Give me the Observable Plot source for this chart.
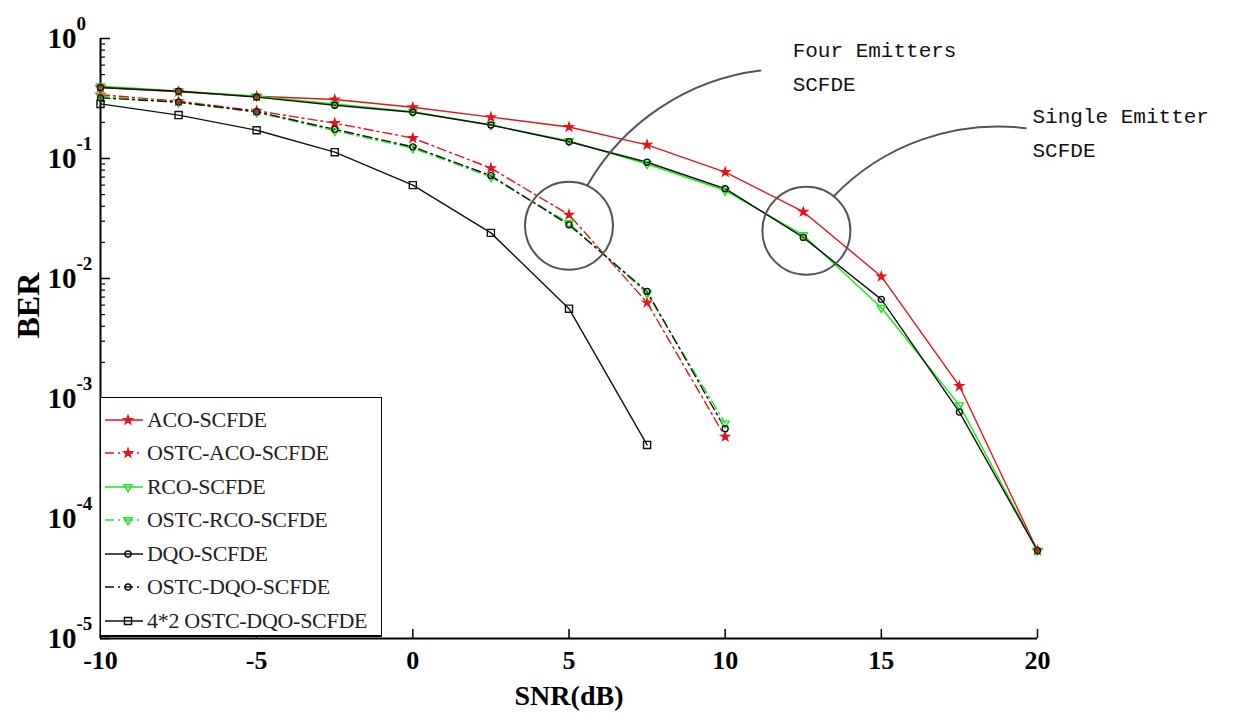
<!DOCTYPE html>
<html>
<head>
<meta charset="utf-8">
<script src="https://cdn.jsdelivr.net/npm/d3@7"></script>
<script src="https://cdn.jsdelivr.net/npm/@observablehq/plot@0.6"></script>
<style>
  body { margin: 0; background: #fff; }
  #wrap { position: relative; width: 1248px; height: 717px; overflow: hidden; }
  #legend { position: absolute; left: 100px; top: 397px; width: 282px; height: 240px;
            border: 1px solid #000; border-bottom: 2px solid #000; background: #fff; box-sizing: border-box;
            padding-top: 5px; font-family: "Liberation Serif", serif; font-size: 22px; color: #222; }
  .row { display: flex; align-items: center; height: 33.5px; }
  .row svg { flex: none; margin-left: 2px; margin-right: 2px; }
  .row span { white-space: nowrap; letter-spacing: -0.3px; }
</style>
</head>
<body>
<div id="wrap"></div>
<script>
// ---------- data ----------
const snr = [-10, -7.5, -5, -2.5, 0, 2.5, 5, 7.5, 10, 12.5, 15, 17.5, 20];
const snrOstc = [-10, -7.5, -5, -2.5, 0, 2.5, 5, 7.5, 10];
const snr42 = [-10, -7.5, -5, -2.5, 0, 2.5, 5, 7.5];

const acoScfde     = [0.39, 0.36, 0.33, 0.31, 0.267, 0.221, 0.183, 0.13, 0.077, 0.036, 0.0104, 0.00127, 0.000054];
const rcoScfde     = [0.40, 0.365, 0.33, 0.285, 0.245, 0.19, 0.14, 0.09, 0.054, 0.023, 0.0057, 0.00088, 0.000054];
const dqoScfde     = [0.39, 0.363, 0.325, 0.278, 0.243, 0.19, 0.138, 0.093, 0.056, 0.022, 0.0067, 0.00077, 0.000054];
const ostcAco      = [0.34, 0.30, 0.25, 0.197, 0.148, 0.083, 0.034, 0.0063, 0.00048];
const ostcRco      = [0.33, 0.295, 0.243, 0.17, 0.122, 0.07, 0.029, 0.0075, 0.00062];
const ostcDqo      = [0.32, 0.295, 0.245, 0.175, 0.125, 0.072, 0.028, 0.0078, 0.00056];
const ostcDqo42    = [0.285, 0.23, 0.172, 0.113, 0.06, 0.024, 0.0056, 0.00041];

const seriesNames = ["ACO-SCFDE", "OSTC-ACO-SCFDE", "RCO-SCFDE", "OSTC-RCO-SCFDE", "DQO-SCFDE", "OSTC-DQO-SCFDE", "4*2 OSTC-DQO-SCFDE"];
const seriesX = [snr, snrOstc, snr, snrOstc, snr, snrOstc, snr42];
const seriesY = [acoScfde, ostcAco, rcoScfde, ostcRco, dqoScfde, ostcDqo, ostcDqo42];

const xTicks = [-10, -5, 0, 5, 10, 15, 20];
const yTicks = [1, 0.1, 0.01, 0.001, 0.0001, 0.00001];
const yTickExp = ["0", "-1", "-2", "-3", "-4", "-5"];

const noteCircles = [{x: 5, y: 0.0275}, {x: 12.6, y: 0.025}];
const noteLeaders = [{x1: 5, y1: 0.0275, x2: 11.13, y2: 0.54}, {x1: 12.6, y1: 0.025, x2: 19.62, y2: 0.179}];
const noteTexts = [{x: 12.16, y: 0.62, text: "Four Emitters\nSCFDE"}, {x: 19.84, y: 0.176, text: "Single Emitter\nSCFDE"}];

// ---------- styles ----------
const RED = "#e8121c", GREEN = "#1ee51e", BLACK = "#111";
const DASH = "9,4,2,4";
const styles = [
  {color: RED,   dash: null, symbol: "star",     rotate: 0,   fill: RED,    r: 2.6},
  {color: RED,   dash: DASH, symbol: "star",     rotate: 0,   fill: RED,    r: 2.6},
  {color: GREEN, dash: null, symbol: "triangle", rotate: 180, fill: "none", r: 3},
  {color: GREEN, dash: DASH, symbol: "triangle", rotate: 180, fill: "none", r: 3},
  {color: BLACK, dash: null, symbol: "circle",   rotate: 0,   fill: "none", r: 3},
  {color: BLACK, dash: DASH, symbol: "circle",   rotate: 0,   fill: "none", r: 3},
  {color: BLACK, dash: null, symbol: "square",   rotate: 0,   fill: "none", r: 4}
];

// ---------- build ----------
const series = seriesNames.map((name, i) => ({
  name, style: styles[i],
  points: seriesX[i].map((x, j) => ({x, y: seriesY[i][j]}))
}));

const minorTicks = [];
for (let k = -5; k < 0; k++) for (let m = 2; m <= 9; m++) minorTicks.push(m * Math.pow(10, k));

const marks = [];
marks.push(Plot.ruleX([-10], {stroke: "#000", strokeWidth: 2}));
marks.push(Plot.ruleY([1e-5], {stroke: "#000", strokeWidth: 2}));
marks.push(Plot.axisY({ticks: yTicks, tickSize: -10, tickFormat: () => "", label: null, strokeWidth: 1.5}));
marks.push(Plot.axisY({ticks: minorTicks, tickSize: -5, tickFormat: () => "", label: null, strokeWidth: 1.2}));
marks.push(Plot.axisX({ticks: xTicks, tickSize: -9, tickPadding: 21, tickFormat: d => String(d), label: null,
  fontSize: 26, fontWeight: "bold", fontFamily: "Liberation Serif", strokeWidth: 1.5}));
marks.push(Plot.text(yTicks, {y: d => d, text: () => "10", frameAnchor: "left", dx: -24, textAnchor: "end",
  fontSize: 29, fontWeight: "bold", fontFamily: "Liberation Serif"}));
marks.push(Plot.text(yTicks, {y: d => d, text: (d, i) => yTickExp[i], frameAnchor: "left", dx: -24, dy: -15, textAnchor: "start",
  fontSize: 19, fontWeight: "bold", fontFamily: "Liberation Serif"}));
marks.push(Plot.text(["SNR(dB)"], {frameAnchor: "bottom", dy: 66, fontSize: 28, fontWeight: "bold", fontFamily: "Liberation Serif"}));
marks.push(Plot.text(["BER"], {frameAnchor: "left", dx: -72, rotate: -90, fontSize: 32, fontWeight: "bold", fontFamily: "Liberation Serif"}));

for (const s of series) {
  const st = s.style;
  marks.push(Plot.line(s.points, {x: "x", y: "y", stroke: st.color, strokeWidth: 1.4, strokeDasharray: st.dash}));
}
for (const s of series) {
  const st = s.style;
  marks.push(Plot.dot(s.points, {x: "x", y: "y", symbol: st.symbol, r: st.r, rotate: st.rotate,
    stroke: st.color, fill: st.fill, strokeWidth: 1.4}));
}

marks.push(Plot.dot(noteCircles, {x: "x", y: "y", r: 44, stroke: "#555", strokeWidth: 2, fill: "none"}));
marks.push(Plot.arrow(noteLeaders, {x1: "x1", y1: "y1", x2: "x2", y2: "y2", bend: 32, headLength: 0,
  insetStart: 44, stroke: "#555", strokeWidth: 2}));
marks.push(Plot.text(noteTexts, {x: "x", y: "y", text: "text", textAnchor: "start", lineAnchor: "middle",
  fontFamily: "Liberation Mono", fontSize: 21, lineHeight: 1.6, fill: "#111"}));

const chart = Plot.plot({
  width: 1248, height: 717,
  marginLeft: 100, marginRight: 211, marginTop: 38, marginBottom: 79,
  x: {domain: [-10, 20]},
  y: {type: "log", domain: [1e-5, 1]},
  style: {background: "#fff", fontFamily: "Liberation Serif", overflow: "visible"},
  marks
});
const wrap = document.getElementById("wrap");
wrap.appendChild(chart);

// ---------- legend ----------
const legend = d3.select(wrap).append("div").attr("id", "legend");
series.forEach(s => {
  const st = s.style;
  const row = legend.append("div").attr("class", "row");
  const svg = row.append("svg").attr("width", 42).attr("height", 20);
  svg.append("line").attr("x1", 2).attr("x2", 40).attr("y1", 10).attr("y2", 10)
    .attr("stroke", st.color).attr("stroke-width", 1.5).attr("stroke-dasharray", st.dash);
  const symMap = {star: d3.symbolStar, triangle: d3.symbolTriangle, circle: d3.symbolCircle, square: d3.symbolSquare};
  svg.append("path").attr("d", d3.symbol(symMap[st.symbol], Math.PI * st.r * st.r)())
    .attr("transform", `translate(25,10) rotate(${st.rotate})`)
    .attr("stroke", st.color).attr("fill", st.fill).attr("stroke-width", 1.5);
  row.append("span").text(s.name);
});
</script>
</body>
</html>
